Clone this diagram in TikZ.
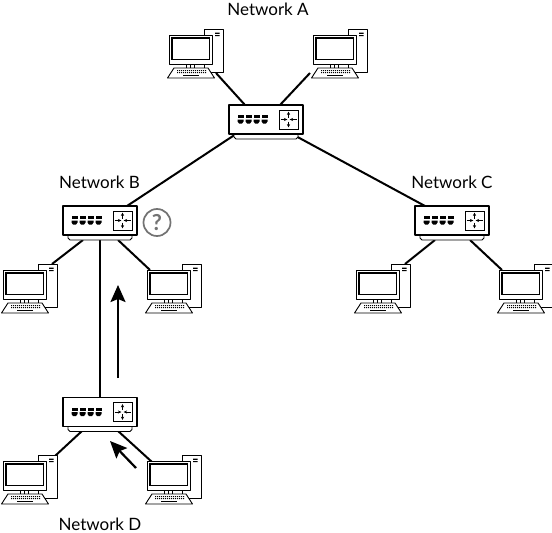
\documentclass[tikz,border=0pt]{standalone}
\usepackage{fontspec}
\setmainfont{Lato}
\usetikzlibrary{arrows.meta}
\tikzset{
  x=1pt,y=-1pt,
  link/.style={line width=2pt,black},
  trunk/.style={line width=2.4pt,black},
  bigarrow/.style={line width=2.2pt,black,-{Stealth[length=17pt,width=15pt,inset=3pt]}},
  netlabel/.style={font=\fontsize{17}{18}\selectfont,text=black,inner sep=0pt},
  pc part/.style={draw=black,fill=white,line width=0.9pt,line join=round},
  pc/.pic={
    % local origin: monitor top-left
    \path[pc part] (35,-6) rectangle (54,37);
    \fill[black] (46,-2.4) rectangle (50.5,-1.2) (46,0) rectangle (50.5,1.2);
    \path[pc part] (17,29) rectangle (21,33) (21,29) rectangle (25,33);
    \path[pc part] (0,0) rectangle (43,29);
    \draw[black,line width=1.1pt] (3,3) rectangle (40.5,24.5);
    \path[pc part] (5,33) -- (39,33) -- (45.5,43) -- (-1.5,43) -- cycle;
    \foreach \xx in {8,10,...,36}{\fill[black] (\xx,35) rectangle (\xx+1,36.1) (\xx,37) rectangle (\xx+1,38.1);}
    \fill[black] (14,40) rectangle (30,41.2);
  },
  switchbox/.pic={
    % local origin: body top-left
    \path[pc part] (5,29) -- (69,29) -- (69,32) -- (67,34) -- (7,34) -- (5,32) -- cycle;
    \path[pc part,line width=1.1pt] (0,0) rectangle (74,29);
    \foreach \xx in {8.5,16.5,24.5,32.5}{
      \fill[black] (\xx,10) -- (\xx+6,10) -- (\xx+6,13) -- (\xx,13) -- cycle;
      \fill[black] (\xx,14.5) -- (\xx+6,14.5) -- (\xx+6,16.5) -- (\xx+4.5,18.5) -- (\xx+1.5,18.5) -- (\xx,16.5) -- cycle;
    }
    \draw[black,line width=0.9pt] (50,5) rectangle (69,24);
    \begin{scope}[shift={(59.5,14.5)},line width=0.7pt,>={Stealth[length=3.4pt,width=3.2pt]}]
      \draw[->] (-8,0) -- (-1.2,0);
      \draw[->] (8,0) -- (1.2,0);
      \draw[->] (0,-2) -- (0,-8);
      \draw[->] (0,2) -- (0,8);
    \end{scope}
  }
}
\begin{document}
\begin{tikzpicture}
\useasboundingbox (0,0) rectangle (552,533);
\fill[white] (0,0) rectangle (552,533);
% anchors for the connectors
\coordinate (aL) at (245,105);
\coordinate (aR) at (280,105);
\coordinate (aBL) at (236,134);
\coordinate (aBR) at (292,134);
\coordinate (bT) at (127,206);
\coordinate (cT) at (425,206);
\coordinate (bL) at (83,240);
\coordinate (bM) at (100,240);
\coordinate (bR) at (118,240);
\coordinate (cL) at (435,240);
\coordinate (cR) at (470,240);
\coordinate (dT) at (100,397);
\coordinate (dL) at (82,431);
\coordinate (dR) at (118,431);
\coordinate (pA1) at (216,73);
\coordinate (pA2) at (310,73);
\coordinate (pB1) at (52,264);
\coordinate (pB2) at (150,270);
\coordinate (pC1) at (405,264);
\coordinate (pC2) at (502,270);
\coordinate (pD1) at (55,456);
\coordinate (pD2) at (152,462);
\coordinate (t1) at (118,378);
\coordinate (h1) at (118,285);
\coordinate (t2) at (136,468);
\coordinate (h2) at (110,441);
% connectors
\draw[link] (pA1) -- (aL);
\draw[link] (pA2) -- (aR);
\draw[link] (aBL) -- (bT);
\draw[link] (aBR) -- (cT);
\draw[link] (bL) -- (pB1);
\draw[link] (bR) -- (pB2);
\draw[link] (cL) -- (pC1);
\draw[link] (cR) -- (pC2);
\draw[link] (dL) -- (pD1);
\draw[link] (dR) -- (pD2);
\draw[trunk] (bM) -- (dT);
% computers
\pic (pcA1) at (169,35) {pc};
\pic (pcA2) at (313,35) {pc};
\pic (pcB1) at (3,270) {pc};
\pic (pcB2) at (147,270) {pc};
\pic (pcC1) at (356,270) {pc};
\pic (pcC2) at (499,270) {pc};
\pic (pcD1) at (3,461) {pc};
\pic (pcD2) at (147,461) {pc};
% switches
\pic (swA) at (229,105) {switchbox};
\pic (swB) at (63,206) {switchbox};
\pic (swC) at (415,206) {switchbox};
\pic (swD) at (63,397.5) {switchbox};
% arrows
\draw[bigarrow] (t1) -- (h1);
\draw[bigarrow] (t2) -- (h2);
% question mark
\node[circle,draw=black!55,line width=1.7pt,minimum size=27pt,inner sep=0pt,text=black!55] (q) at (157,222.5) {\fontsize{22}{22}\selectfont\fontspec{Lato Bold}?};
% labels
\node[netlabel] (lA) at (268,9) {Network A};
\node[netlabel] (lB) at (99.5,182) {Network B};
\node[netlabel] (lC) at (452,182) {Network C};
\node[netlabel] (lD) at (100,524) {Network D};
\end{tikzpicture}
\end{document}
